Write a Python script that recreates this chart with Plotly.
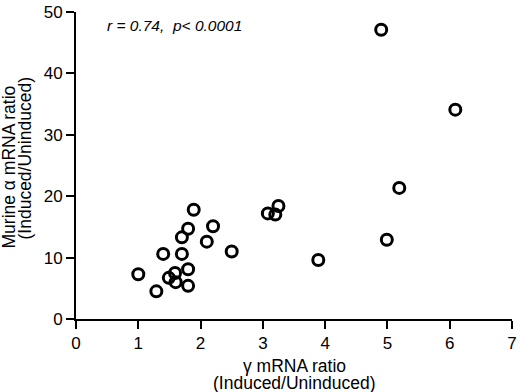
import plotly.graph_objects as go

gamma_ratio = [1.0, 1.29, 1.40, 1.49, 1.59, 1.60, 1.70, 1.70, 1.80, 1.80, 1.80, 1.89,
               2.10, 2.20, 2.50, 3.08, 3.20, 3.25, 3.89, 4.90, 4.99, 5.19, 6.09]
alpha_ratio = [7.3, 4.5, 10.6, 6.7, 7.5, 6.0, 10.6, 13.3, 14.7, 8.1, 5.4, 17.8,
               12.6, 15.1, 11.0, 17.2, 17.0, 18.4, 9.6, 47.1, 12.9, 21.35, 34.1]
x_ticks = [0, 1, 2, 3, 4, 5, 6, 7]
y_ticks = [0, 10, 20, 30, 40, 50]

font = "Liberation Sans, Arial, Helvetica, sans-serif"
TITLE_SIZE = 17.5

fig = go.Figure()
fig.add_trace(go.Scatter(
    x=gamma_ratio, y=alpha_ratio, mode="markers",
    marker=dict(symbol="circle-open", size=11, color="black",
                line=dict(width=3, color="black")),
    cliponaxis=False, showlegend=False,
))

axis_common = dict(
    showgrid=False, zeroline=False, showline=True, linecolor="black", linewidth=2,
    ticks="outside", ticklen=8, tickwidth=2, tickcolor="black",
    tickfont=dict(family=font, size=17, color="black"),
    ticklabeloverflow="allow",
)
fig.update_xaxes(range=[0, 7], tickvals=x_ticks, **axis_common)
fig.update_yaxes(range=[0, 50], tickvals=y_ticks, **axis_common)

def title_line(text, **kw):
    d = dict(text=text, xref="paper", yref="paper", showarrow=False,
             font=dict(family=font, size=TITLE_SIZE, color="black"))
    d.update(kw)
    return d

fig.update_layout(
    width=520, height=392,
    margin=dict(l=76, r=3, t=8, b=73),
    plot_bgcolor="white", paper_bgcolor="white",
    font=dict(family=font, color="black"),
    annotations=[
        dict(text="<i>r = 0.74,  p< 0.0001</i>", xref="paper", yref="paper",
             x=0, y=1.0, xanchor="left", yanchor="middle", xshift=29, yshift=-13,
             showarrow=False, font=dict(family=font, size=15.5, color="black")),
        title_line("γ mRNA ratio", x=0.5, y=0, xanchor="center", yanchor="middle", yshift=-47),
        title_line("(Induced/Uninduced)", x=0.5, y=0, xanchor="center", yanchor="middle", yshift=-64),
        title_line("Murine α mRNA ratio", x=0, y=0.5, xanchor="center", yanchor="middle",
                   xshift=-68, yshift=-2, textangle=-90),
        title_line("(Induced/Uninduced)", x=0, y=0.5, xanchor="center", yanchor="middle",
                   xshift=-52, yshift=7, textangle=-90),
    ],
)

fig.write_html(
    "out.html",
    config={"displayModeBar": False},
    post_script="document.body.style.margin='0';document.body.style.overflow='hidden';",
)
